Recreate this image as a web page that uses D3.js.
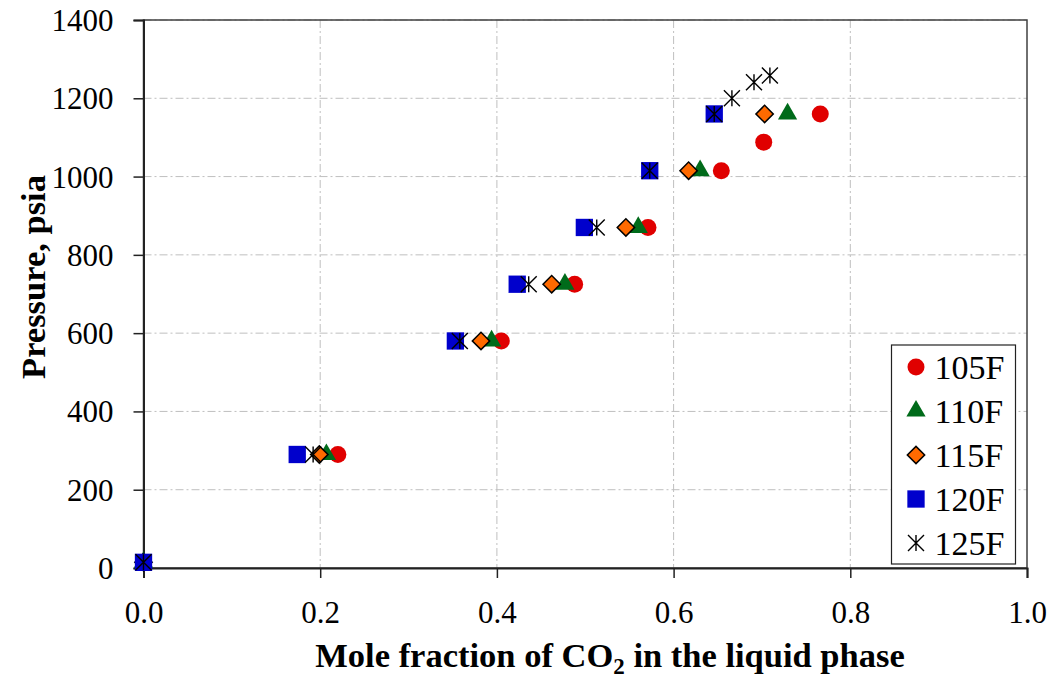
<!DOCTYPE html>
<html>
<head>
<meta charset="utf-8">
<script src="https://cdn.jsdelivr.net/npm/d3@7"></script>
<style>
  body { margin: 0; background: #fff; }
  text { font-family: "Liberation Serif", "DejaVu Serif", serif; fill: #000; }
</style>
</head>
<body>
<div id="chart"></div>
<script>
// Data
const seriesNames = ["105F", "110F", "115F", "120F", "125F"];
const x105 = [0, 0.220, 0.405, 0.488, 0.571, 0.654, 0.702, 0.766];
const y105 = [14.5, 290, 580, 725, 870, 1015, 1088, 1160];
const x110 = [0, 0.207, 0.394, 0.477, 0.560, 0.630, 0.729];
const y110 = [14.5, 290, 580, 725, 870, 1015, 1160];
const x115 = [0, 0.199, 0.382, 0.462, 0.546, 0.617, 0.703];
const y115 = [14.5, 290, 580, 725, 870, 1015, 1160];
const x120 = [0, 0.174, 0.353, 0.423, 0.499, 0.573, 0.646];
const y120 = [14.5, 290, 580, 725, 870, 1015, 1160];
const x125 = [0, 0.192, 0.358, 0.436, 0.513, 0.573, 0.646, 0.666, 0.691, 0.709];
const y125 = [14.5, 290, 580, 725, 870, 1015, 1160, 1200, 1241, 1258];
const xTicks = [0, 0.2, 0.4, 0.6, 0.8, 1.0];
const yTicks = [0, 200, 400, 600, 800, 1000, 1200, 1400];

const width = 1050, height = 679;
const margin = {top: 20, right: 23, bottom: 111, left: 143.5};
const w = width - margin.left - margin.right;
const h = height - margin.top - margin.bottom;

const svg = d3.select("#chart").append("svg")
    .attr("width", width)
    .attr("height", height);

const g = svg.append("g")
    .attr("transform", `translate(${margin.left},${margin.top})`);

const x = d3.scaleLinear().domain([0, 1]).range([0, w]);
const y = d3.scaleLinear().domain([0, 1400]).range([h, 0]);

// gridlines (dash-dot)
g.append("g").selectAll("line").data(yTicks.slice(1)).join("line")
    .attr("x1", 0).attr("x2", w)
    .attr("y1", d => y(d)).attr("y2", d => y(d))
    .attr("stroke", "#bfbfbf").attr("stroke-width", 1)
    .attr("stroke-dasharray", "8,3,2,3");
g.append("g").selectAll("line").data(xTicks.slice(1, -1)).join("line")
    .attr("x1", d => x(d)).attr("x2", d => x(d))
    .attr("y1", 0).attr("y2", h)
    .attr("stroke", "#bfbfbf").attr("stroke-width", 1)
    .attr("stroke-dasharray", "8,3,2,3");

// frame
g.append("rect")
    .attr("width", w).attr("height", h)
    .attr("fill", "none").attr("stroke", "#404040").attr("stroke-width", 1.5);

// axes
const xAxis = g.append("g")
    .attr("transform", `translate(0,${h})`)
    .call(d3.axisBottom(x).tickValues(xTicks).tickFormat(d3.format(".1f"))
        .tickSize(10).tickPadding(23));
const yAxis = g.append("g")
    .call(d3.axisLeft(y).tickValues(yTicks).tickFormat(d3.format("d"))
        .tickSize(10).tickPadding(20));

[xAxis, yAxis].forEach(a => {
    a.select(".domain").attr("stroke", "#222").attr("stroke-width", 2);
    a.selectAll(".tick line").attr("stroke", "#222").attr("stroke-width", 1.5);
    a.selectAll(".tick text")
        .style("font-family", "'Liberation Serif', serif")
        .style("font-size", "31px")
        .attr("fill", "#000");
});
yAxis.selectAll(".tick text").attr("dy", "0.34em");

// marker shapes
const starSym = {
    draw(ctx, size) {
        const r = Math.sqrt(size) / 2;
        ctx.moveTo(-r, -r); ctx.lineTo(r, r);
        ctx.moveTo(-r, r); ctx.lineTo(r, -r);
        ctx.moveTo(0, -r); ctx.lineTo(0, r);
    }
};
const styles = [
    {type: d3.symbolCircle, size: 227, fill: "#e00000", stroke: "none", sw: 0, rot: 0},
    {type: d3.symbolTriangle, size: 160, fill: "#006b1a", stroke: "none", sw: 0, rot: 0},
    {type: d3.symbolSquare, size: 150, fill: "#ff6a00", stroke: "#000", sw: 1.5, rot: 45},
    {type: d3.symbolSquare, size: 300, fill: "#0000cc", stroke: "none", sw: 0, rot: 0},
    {type: starSym, size: 256, fill: "none", stroke: "#000", sw: 1.4, rot: 0}
];

const series = [
    {name: seriesNames[0], xs: x105, ys: y105},
    {name: seriesNames[1], xs: x110, ys: y110},
    {name: seriesNames[2], xs: x115, ys: y115},
    {name: seriesNames[3], xs: x120, ys: y120},
    {name: seriesNames[4], xs: x125, ys: y125}
];

series.forEach((s, i) => {
    const st = styles[i];
    const pts = s.xs.map((v, j) => ({x: v, y: s.ys[j]}));
    g.append("g").selectAll("path").data(pts).join("path")
        .attr("d", d3.symbol().type(st.type).size(st.size)())
        .attr("transform", d => `translate(${x(d.x)},${y(d.y)}) rotate(${st.rot})`)
        .attr("fill", st.fill)
        .attr("stroke", st.stroke)
        .attr("stroke-width", st.sw);
});

// legend
const legX = 891.5 - margin.left, legY = 345 - margin.top;
const legend = g.append("g").attr("transform", `translate(${legX},${legY})`);
legend.append("rect")
    .attr("width", 124).attr("height", 219)
    .attr("fill", "#fff").attr("stroke", "#222").attr("stroke-width", 1.2);
series.forEach((s, i) => {
    const st = styles[i];
    const cy = 22 + i * 44;
    legend.append("path")
        .attr("d", d3.symbol().type(st.type).size(st.size)())
        .attr("transform", `translate(24.5,${cy}) rotate(${st.rot})`)
        .attr("fill", st.fill)
        .attr("stroke", st.stroke)
        .attr("stroke-width", st.sw);
    legend.append("text")
        .attr("x", 43).attr("y", cy + 11.5)
        .style("font-size", "34px")
        .text(s.name);
});

// axis titles
svg.append("text")
    .attr("x", 610).attr("y", 667)
    .attr("text-anchor", "middle")
    .style("font-size", "34.5px").style("font-weight", "bold")
    .call(t => {
        t.append("tspan").text("Mole fraction of CO");
        t.append("tspan").attr("dy", 7).style("font-size", "23px").text("2");
        t.append("tspan").attr("dy", -7).text(" in the liquid phase");
    });

svg.append("text")
    .attr("transform", "translate(45,277) rotate(-90)")
    .attr("text-anchor", "middle")
    .style("font-size", "34.5px").style("font-weight", "bold")
    .text("Pressure, psia");
</script>
</body>
</html>
